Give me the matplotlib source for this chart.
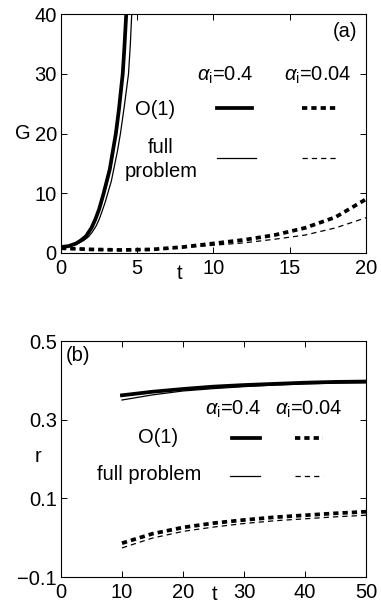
import matplotlib
matplotlib.use("Agg")
import matplotlib.pyplot as plt

# (a) growth G(t)
t_a04_o1 = [0, 0.5, 1.0, 1.3, 1.64, 2.0, 2.25, 2.5, 2.8, 3.0, 3.2, 3.4, 3.6,
            3.8, 4.05, 4.15, 4.28, 4.4]
G_a04_o1 = [1.0, 1.15, 1.6, 2.1, 2.8, 4.2, 5.6, 7.3, 10, 12, 14, 17, 20,
            24, 30, 34, 40, 45]
t_a04_full = [0, 0.5, 1.0, 1.5, 1.8, 2.05, 2.3, 2.5, 2.7, 2.9, 3.07, 3.3, 3.5,
              3.7, 3.9, 4.15, 4.43, 4.55, 4.64, 4.7]
G_a04_full = [1.0, 1.1, 1.45, 2.1, 2.7, 3.5, 4.5, 5.6, 7.0, 8.5, 10, 12, 14.5,
              17, 20, 24.5, 30, 35, 40, 44]
t_a004 = [0, 2, 4, 6, 8, 10, 12, 14, 16, 18, 20]
G_a004_o1 = [0.8, 0.6, 0.5, 0.6, 1.0, 1.6, 2.2, 3.0, 4.2, 6.0, 9.0]
G_a004_full = [0.8, 0.6, 0.5, 0.55, 0.9, 1.3, 1.7, 2.3, 3.0, 4.2, 5.9]

# (b) r(t)
t_b = [10, 15, 20, 25, 30, 35, 40, 45, 50]
r_a04_o1 = [0.362, 0.371, 0.378, 0.384, 0.388, 0.391, 0.394, 0.396, 0.397]
r_a04_full = [0.350, 0.363, 0.373, 0.379, 0.384, 0.388, 0.391, 0.393, 0.394]
r_a004_o1 = [-0.014, 0.010, 0.026, 0.037, 0.045, 0.052, 0.057, 0.062, 0.066]
r_a004_full = [-0.026, -0.001, 0.016, 0.027, 0.036, 0.043, 0.048, 0.053, 0.057]

plt.rcParams.update({
    "font.family": ["Liberation Sans", "DejaVu Sans"],
    "font.size": 14.5,
    "mathtext.fontset": "custom",
    "mathtext.rm": "Liberation Sans",
    "mathtext.it": "Liberation Sans:italic",
    "lines.scale_dashes": False,
    "axes.linewidth": 0.8,
})

THICK = 2.7
THIN = 0.9
DASH = (3.8, 2.9)

fig = plt.figure(figsize=(3.81, 6.07), dpi=100)
ax1 = fig.add_axes([0.160, 0.5832, 0.8006, 0.3937])
ax2 = fig.add_axes([0.160, 0.0494, 0.8006, 0.3888])

for ax in (ax1, ax2):
    ax.tick_params(direction="in", top=True, right=True, length=4, width=0.7,
                   labelsize=14.5)
    ax.tick_params(axis="x", pad=4)
    ax.tick_params(axis="y", pad=3)

# ---- panel (a)
ax1.plot(t_a04_o1, G_a04_o1, "k-", lw=THICK)
ax1.plot(t_a04_full, G_a04_full, "k-", lw=THIN)
ax1.plot(t_a004, G_a004_o1, "k", lw=THICK, dashes=DASH)
ax1.plot(t_a004, G_a004_full, "k", lw=THIN, dashes=DASH)
ax1.set_xlim(0, 20)
ax1.set_ylim(0, 40)
ax1.set_xticks([0, 5, 10, 15, 20])
ax1.set_yticks([0, 10, 20, 30, 40])
ax1.set_xlabel("t")
ax1.xaxis.set_label_coords(0.39, -0.045)
ax1.set_ylabel("G", rotation=0)
ax1.yaxis.set_label_coords(-0.125, 0.46)

ax1.text(18.6, 37, "(a)", ha="center", va="center")
ax1.text(8.9, 28.9, r"$\alpha_{\mathrm{i}}$=0.4", ha="left", va="baseline")
ax1.text(14.6, 28.9, r"$\alpha_{\mathrm{i}}$=0.04", ha="left", va="baseline")
ax1.text(4.85, 23.1, "O(1)", ha="left", va="baseline")
ax1.text(6.56, 16.7, "full", ha="center", va="baseline")
ax1.text(6.56, 12.7, "problem", ha="center", va="baseline")
ax1.plot([10.23, 12.52], [24.3, 24.3], "k-", lw=THICK)
ax1.plot([15.8, 18.2], [24.3, 24.3], "k", lw=THICK, dashes=DASH)
ax1.plot([10.23, 12.8], [15.9, 15.9], "k-", lw=THIN)
ax1.plot([15.8, 18.2], [15.9, 15.9], "k", lw=THIN, dashes=DASH)

# ---- panel (b)
ax2.plot(t_b, r_a04_o1, "k-", lw=THICK)
ax2.plot(t_b, r_a04_full, "k-", lw=THIN)
ax2.plot(t_b, r_a004_o1, "k", lw=THICK, dashes=DASH)
ax2.plot(t_b, r_a004_full, "k", lw=THIN, dashes=DASH)
ax2.set_xlim(0, 50)
ax2.set_ylim(-0.1, 0.5)
ax2.set_xticks([0, 10, 20, 30, 40, 50])
ax2.set_yticks([-0.1, 0.1, 0.3, 0.5])
ax2.set_yticklabels(["\u22120.1", "0.1", "0.3", "0.5"])
ax2.set_xlabel("t")
ax2.xaxis.set_label_coords(0.505, -0.035)
ax2.set_ylabel("r", rotation=0)
ax2.yaxis.set_label_coords(-0.075, 0.47)

ax2.text(2.8, 0.464, "(b)", ha="center", va="center")
ax2.text(23.6, 0.312, r"$\alpha_{\mathrm{i}}$=0.4", ha="left", va="baseline")
ax2.text(35.1, 0.312, r"$\alpha_{\mathrm{i}}$=0.04", ha="left", va="baseline")
ax2.text(12.6, 0.241, "O(1)", ha="left", va="baseline")
ax2.text(5.9, 0.147, "full problem", ha="left", va="baseline")
ax2.plot([28.0, 32.6], [0.253, 0.253], "k-", lw=THICK)
ax2.plot([38.4, 43.0], [0.253, 0.253], "k", lw=THICK, dashes=DASH)
ax2.plot([27.7, 32.6], [0.157, 0.157], "k-", lw=THIN)
ax2.plot([38.4, 43.0], [0.157, 0.157], "k", lw=THIN, dashes=DASH)

fig.savefig("out.png", dpi=100, facecolor="white")
